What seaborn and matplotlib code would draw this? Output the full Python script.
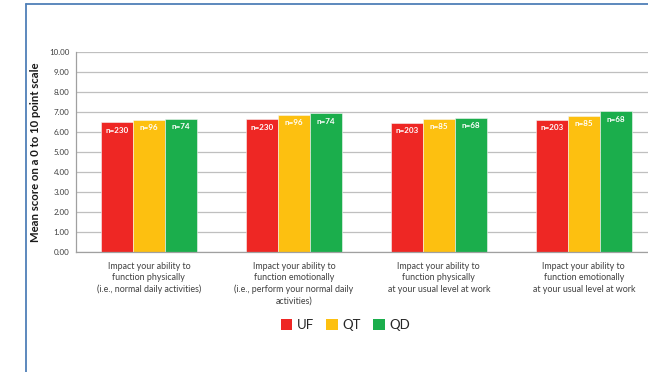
import matplotlib
matplotlib.use("Agg")
import matplotlib.pyplot as plt
import seaborn as sns
import pandas as pd
from matplotlib.patches import Patch
from matplotlib.lines import Line2D

categories = [
    "Impact your ability to\nfunction physically\n(i.e., normal daily activities)",
    "Impact your ability to\nfunction emotionally\n(i.e., perform your normal daily\nactivities)",
    "Impact your ability to\nfunction physically\nat your usual level at work",
    "Impact your ability to\nfunction emotionally\nat your usual level at work",
]
groups = ["UF", "QT", "QD"]
uf_values = [6.48, 6.63, 6.47, 6.62]
qt_values = [6.60, 6.85, 6.65, 6.80]
qd_values = [6.67, 6.93, 6.70, 7.03]
uf_n = [230, 230, 203, 203]
qt_n = [96, 96, 85, 85]
qd_n = [74, 74, 68, 68]
yticks = [0, 1, 2, 3, 4, 5, 6, 7, 8, 9, 10]

colors = {"UF": "#EE2724", "QT": "#FDC010", "QD": "#1BAE4C"}

rows = []
for g, vals, ns in zip(groups, [uf_values, qt_values, qd_values], [uf_n, qt_n, qd_n]):
    for c, v, n in zip(categories, vals, ns):
        rows.append({"category": c, "group": g, "value": v, "n": n})
df = pd.DataFrame(rows)

sns.set_theme(style="white")
plt.rcParams["font.family"] = ["Lato", "DejaVu Sans"]

fig = plt.figure(figsize=(6.48, 3.72), dpi=100)
ax = fig.add_axes([0.1178, 0.3226, 0.895, 0.5376])

sns.barplot(data=df, x="category", y="value", hue="group", order=categories,
            hue_order=groups, palette=colors, width=0.66, gap=0, saturation=1,
            edgecolor="#f5f5f5", linewidth=0.4, ax=ax, legend=False, errorbar=None)

# n labels
for cont, g in zip(ax.containers, groups):
    sub = df[df.group == g].set_index("category").loc[categories]
    for bar, n in zip(cont, sub["n"]):
        ax.text(bar.get_x() + bar.get_width() / 2, bar.get_height() - 0.22,
                f"n={n}", ha="center", va="top", color="white",
                fontsize=5.8, fontweight="bold")

ax.set_ylim(0, 10)
ax.set_xlim(-0.5, len(categories) - 0.5)
ax.set_yticks(yticks)
ax.set_yticklabels([f"{t:.2f}" for t in yticks], fontsize=5.8, color="#404040")
ax.yaxis.grid(True, color="#BFBFBF", linewidth=0.9)
ax.set_axisbelow(True)

# x ticks: labels at centers, small tick marks at boundaries
ax.set_xticks(range(len(categories)))
ax.set_xticklabels(categories, fontsize=6.4, color="#404040", linespacing=1.35)
ax.tick_params(axis="x", length=0, pad=7)
ax.set_xticks([i + 0.5 for i in range(len(categories) - 1)] + [-0.5], minor=True)
ax.tick_params(axis="x", which="minor", length=3, color="#A0A0A0", width=0.8, direction="out")
ax.tick_params(axis="y", length=2, color="#A0A0A0", pad=3)

ax.set_xlabel("")
ax.set_ylabel("Mean score on a 0 to 10 point scale", fontsize=8.2,
              fontweight="bold", color="#1a1a1a", labelpad=6)

for s in ["top", "right"]:
    ax.spines[s].set_visible(False)
for s in ["left", "bottom"]:
    ax.spines[s].set_color("#A0A0A0")
    ax.spines[s].set_linewidth(0.9)

handles = [Patch(facecolor=colors[g], edgecolor="none") for g in groups]
fig.legend(handles, groups, loc="center", bbox_to_anchor=(0.533, 0.126), ncol=3,
           frameon=False, fontsize=9.5, handlelength=0.9, handleheight=0.9,
           handletextpad=0.35, columnspacing=0.9, labelcolor="#262626")

# outer blue frame
fig.add_artist(Line2D([25.5 / 648, 25.5 / 648], [0, 1 - 4 / 372], transform=fig.transFigure,
                      color="#4F7FB8", linewidth=1.3))
fig.add_artist(Line2D([25.5 / 648, 1], [1 - 4 / 372, 1 - 4 / 372], transform=fig.transFigure,
                      color="#4F7FB8", linewidth=1.3))

fig.savefig("out.png", dpi=100)
